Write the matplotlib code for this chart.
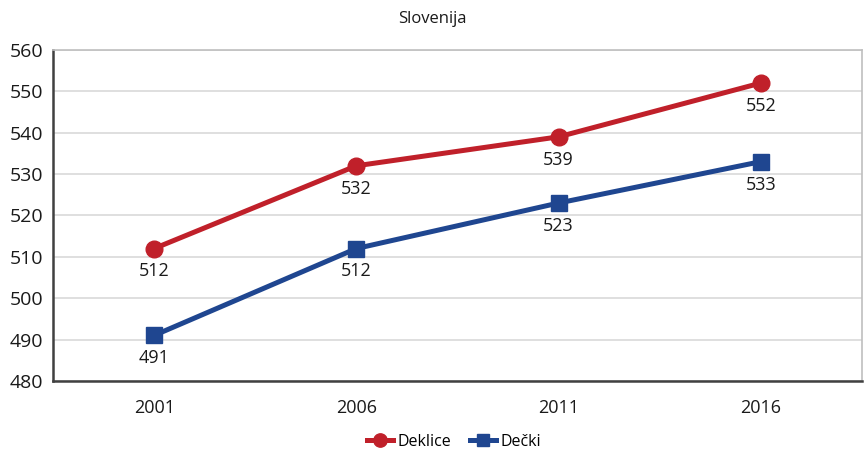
import matplotlib.pyplot as plt

plt.rcParams['font.family'] = ['Open Sans', 'DejaVu Sans']

years = ["2001", "2006", "2011", "2016"]
deklice = [512, 532, 539, 552]
decki = [491, 512, 523, 533]

red = "#c0202a"
blue = "#1f4690"
txt = "#1a1a1a"

fig = plt.figure(figsize=(8.65, 4.54), dpi=100)
ax = fig.add_axes([0.0613, 0.161, 0.9352, 0.729])

x = list(range(len(years)))
ax.plot(x, deklice, color=red, lw=3.6, marker="o", ms=12, label="Deklice", zorder=3)
ax.plot(x, decki, color=blue, lw=3.6, marker="s", ms=11.5, label="Dečki", zorder=3)

# value labels under each point
for series in (deklice, decki):
    for xi, v in zip(x, series):
        ax.annotate(str(v), (xi, v), xytext=(0, -10), textcoords="offset points",
                    ha="center", va="top", fontsize=13, color=txt)

ax.set_xlim(-0.5, 3.5)
ax.set_ylim(480, 560)
ax.set_yticks(range(480, 561, 10))
ax.set_xticks(x)
ax.set_xticklabels(years)
ax.tick_params(axis="both", length=0, colors=txt)
ax.tick_params(axis="y", labelsize=14, pad=7)
ax.tick_params(axis="x", labelsize=13, pad=13)
ax.grid(axis="y", color="#d9d9d9", lw=1.2)
ax.set_axisbelow(True)

for side in ["left", "bottom"]:
    ax.spines[side].set_color("#404040")
    ax.spines[side].set_linewidth(1.8)
for side in ["top", "right"]:
    ax.spines[side].set_color("#bfbfbf")
    ax.spines[side].set_linewidth(1.2)

fig.text(0.5, 0.958, "Slovenija", ha="center", va="center", fontsize=12, color=txt)

fig.legend(loc="center", bbox_to_anchor=(0.525, 0.027), ncol=2, frameon=False,
           fontsize=11.5, handlelength=1.6, handletextpad=0.3, columnspacing=1.2,
           markerscale=0.8)

fig.savefig("out.png", dpi=100)
